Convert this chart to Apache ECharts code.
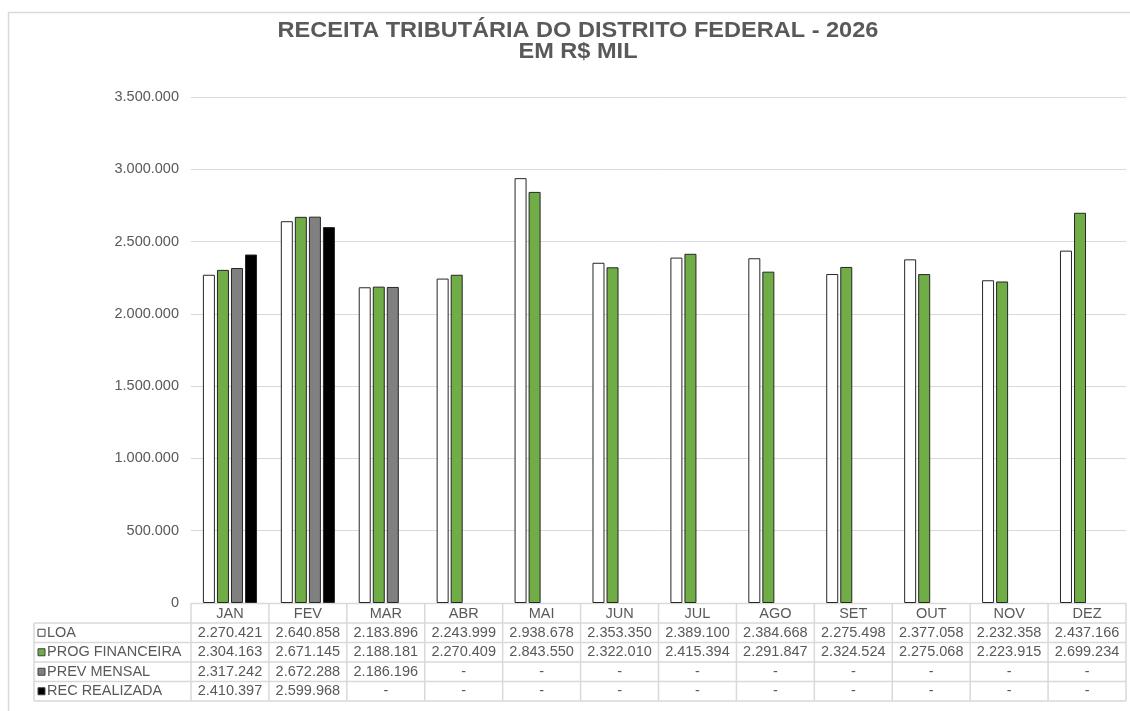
<!DOCTYPE html>
<html>
<head>
<meta charset="utf-8">
<title>Receita Tributária DF 2026</title>
<script src="https://cdn.jsdelivr.net/npm/echarts@6/dist/echarts.min.js"></script>
<style>
  html, body { margin: 0; padding: 0; background: #fff; }
  #chart { width: 1130px; height: 711px; }
</style>
</head>
<body>
<div id="chart"></div>
<script>
// dados (R$ mil)
var meses = ['JAN', 'FEV', 'MAR', 'ABR', 'MAI', 'JUN', 'JUL', 'AGO', 'SET', 'OUT', 'NOV', 'DEZ'];
var loa = [2270421, 2640858, 2183896, 2243999, 2938678, 2353350, 2389100, 2384668, 2275498, 2377058, 2232358, 2437166];
var progFinanceira = [2304163, 2671145, 2188181, 2270409, 2843550, 2322010, 2415394, 2291847, 2324524, 2275068, 2223915, 2699234];
var prevMensal = [2317242, 2672288, 2186196, '-', '-', '-', '-', '-', '-', '-', '-', '-'];
var recRealizada = [2410397, 2599968, '-', '-', '-', '-', '-', '-', '-', '-', '-', '-'];
var yTicks = [0, 500000, 1000000, 1500000, 2000000, 2500000, 3000000, 3500000];

var titulo = 'RECEITA TRIBUTÁRIA DO DISTRITO FEDERAL - 2026\nEM R$ MIL';
var nomes = ['LOA', 'PROG FINANCEIRA', 'PREV MENSAL', 'REC REALIZADA'];
var cores = ['#ffffff', '#70ad47', '#808080', '#000000'];
var valores = [loa, progFinanceira, prevMensal, recRealizada];

function fmt(v) {
  if (v === '-' || v == null) return '-';
  return String(v).replace(/\B(?=(\d{3})+(?!\d))/g, '.');
}

var chart = echarts.init(document.getElementById('chart'));

// layout do grafico e da tabela
var gLeft = 191, gRight = 1126, gTop = 97, gBottom = 603;
var colW = (gRight - gLeft) / meses.length;
var tabLeft = 34;
var headH = 20, rowH = 19.5;
var fonte = '"Liberation Sans", Arial, sans-serif';
var font = '14.5px ' + fonte;
var txtCor = '#595959';
var linhaCor = '#d9d9d9';

var elementos = [];
// moldura externa
elementos.push({
  type: 'rect', silent: true,
  shape: { x: 8.5, y: 12.5, width: 1140, height: 720 },
  style: { fill: 'none', stroke: linhaCor, lineWidth: 1.5 }
});

// titulo
elementos.push({
  type: 'text', silent: true,
  x: 578, y: 20, scaleX: 1.07,
  style: { text: titulo, x: 0, y: 0, align: 'center', verticalAlign: 'top', font: 'bold 22px ' + fonte, lineHeight: 21, fill: txtCor }
});

// tabela de dados
var tabTop = gBottom;
var yLinhas = [tabTop + headH];
for (var r = 1; r <= nomes.length; r++) yLinhas.push(tabTop + headH + r * rowH);
var tabBottom = yLinhas[yLinhas.length - 1];

elementos.push({ type: 'line', silent: true, shape: { x1: gLeft, y1: tabTop + 0.5, x2: gRight, y2: tabTop + 0.5 }, style: { stroke: linhaCor, lineWidth: 1.5 } });
yLinhas.forEach(function (y) {
  elementos.push({ type: 'line', silent: true, shape: { x1: tabLeft, y1: y, x2: gRight, y2: y }, style: { stroke: linhaCor, lineWidth: 1.5 } });
});
elementos.push({ type: 'line', silent: true, shape: { x1: tabLeft, y1: yLinhas[0], x2: tabLeft, y2: tabBottom }, style: { stroke: linhaCor, lineWidth: 1.5 } });
for (var c = 0; c <= meses.length; c++) {
  var x = gLeft + c * colW;
  elementos.push({ type: 'line', silent: true, shape: { x1: x, y1: tabTop, x2: x, y2: tabBottom }, style: { stroke: linhaCor, lineWidth: 1.5 } });
}

// cabecalho com os meses
meses.forEach(function (m, i) {
  elementos.push({
    type: 'text', silent: true,
    style: { text: m, x: gLeft + (i + 0.5) * colW, y: tabTop + headH / 2 + 1, align: 'center', verticalAlign: 'middle', font: font, fill: txtCor }
  });
});

// linhas com legenda e valores
nomes.forEach(function (nome, r) {
  var yc = yLinhas[r] + rowH / 2;
  elementos.push({
    type: 'rect', silent: true,
    shape: { x: 38, y: yc - 3.5, width: 7, height: 7 },
    style: { fill: cores[r], stroke: '#404040', lineWidth: 1 }
  });
  elementos.push({
    type: 'text', silent: true,
    style: { text: nome, x: 47, y: yc, align: 'left', verticalAlign: 'middle', font: font, fill: txtCor }
  });
  valores[r].forEach(function (v, i) {
    elementos.push({
      type: 'text', silent: true,
      style: { text: fmt(v), x: gLeft + (i + 0.5) * colW, y: yc, align: 'center', verticalAlign: 'middle', font: font, fill: txtCor }
    });
  });
});

var series = nomes.map(function (nome, r) {
  return {
    name: nome,
    type: 'bar',
    barWidth: 12,
    barGap: '17%',
    itemStyle: { color: cores[r], borderColor: '#262626', borderWidth: 1 },
    data: valores[r]
  };
});

var option = {
  animation: false,
  backgroundColor: '#fff',
  grid: { left: gLeft, right: 1130 - gRight, top: gTop, bottom: 711 - gBottom },
  xAxis: {
    type: 'category',
    data: meses,
    axisLine: { show: false },
    axisTick: { show: false },
    axisLabel: { show: false }
  },
  yAxis: {
    type: 'value',
    min: yTicks[0],
    max: yTicks[yTicks.length - 1],
    interval: yTicks[1] - yTicks[0],
    axisLine: { show: false },
    axisTick: { show: false },
    axisLabel: { margin: 12, color: txtCor, fontSize: 14.5, fontFamily: fonte, formatter: fmt },
    splitLine: { lineStyle: { color: linhaCor, width: 1 } }
  },
  series: series,
  graphic: { elements: elementos }
};

chart.setOption(option);
</script>
</body>
</html>
